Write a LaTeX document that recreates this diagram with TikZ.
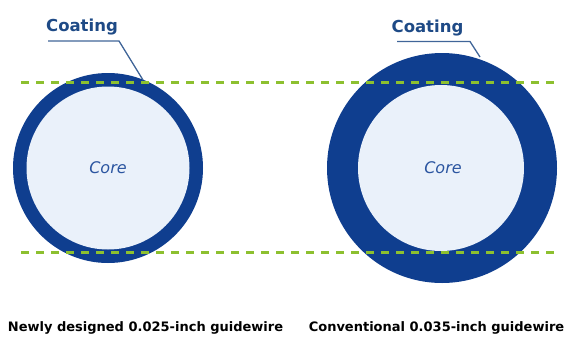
\documentclass[tikz,border=0pt]{standalone}
\usepackage{fontspec}
\setmainfont{DejaVu Sans}
\definecolor{ringblue}{HTML}{0F3E8F}
\definecolor{corefill}{HTML}{EAF1FA}
\definecolor{dashgreen}{HTML}{8DC02F}
\definecolor{labelblue}{HTML}{1E4A86}
\definecolor{coretext}{HTML}{2B55A0}
\begin{document}
\begin{tikzpicture}[x=1pt,y=1pt,
  ring/.style={fill=ringblue,draw=none},
  corecircle/.style={fill=corefill,draw=none},
  guide/.style={draw=dashgreen,line width=3pt,dash pattern=on 8pt off 7pt},
  coatlabel/.style={font=\bfseries\fontsize{16.5}{18}\selectfont,text=labelblue,inner sep=0pt,anchor=base},
  leader/.style={draw=labelblue!85!white,line width=1.3pt},
  corelabel/.style={font=\itshape\fontsize{16}{18}\selectfont,text=coretext,inner sep=0pt},
  caption/.style={font=\bfseries\fontsize{13}{15}\selectfont,text=black,inner sep=0pt,anchor=base}]
\useasboundingbox (0,0) rectangle (565,-338);
% left guidewire
\fill[ring] (108,-168) circle (95);
\fill[corecircle] (108,-168) circle (81.5);
% right guidewire
\fill[ring] (442,-168) circle (115);
\fill[corecircle] (441,-168) circle (83);
% guide lines
\coordinate (gl1) at (21,-82);
\coordinate (gr1) at (560,-82);
\coordinate (gl2) at (21,-252);
\coordinate (gr2) at (560,-252);
\draw[guide] (gl1) -- (gr1);
\draw[guide] (gl2) -- (gr2);
% labels
\node[coatlabel] (c1) at (82,-31) {Coating};
\node[coatlabel] (c2) at (427.5,-32) {Coating};
\coordinate (c1a) at (48,-41);
\coordinate (c1b) at (119,-41);
\coordinate (c1c) at (143,-80);
\coordinate (c2a) at (397,-41.5);
\coordinate (c2b) at (470,-41.5);
\coordinate (c2c) at (480,-57);
\draw[leader] (c1a) -- (c1b) -- (c1c);
\draw[leader] (c2a) -- (c2b) -- (c2c);
\node[corelabel] (k1) at (108,-168) {Core};
\node[corelabel] (k2) at (443,-168) {Core};
\node[caption] (t1) at (145.5,-331) {Newly designed 0.025-inch guidewire};
\node[caption] (t2) at (436.5,-331) {Conventional 0.035-inch guidewire};
\end{tikzpicture}
\end{document}
